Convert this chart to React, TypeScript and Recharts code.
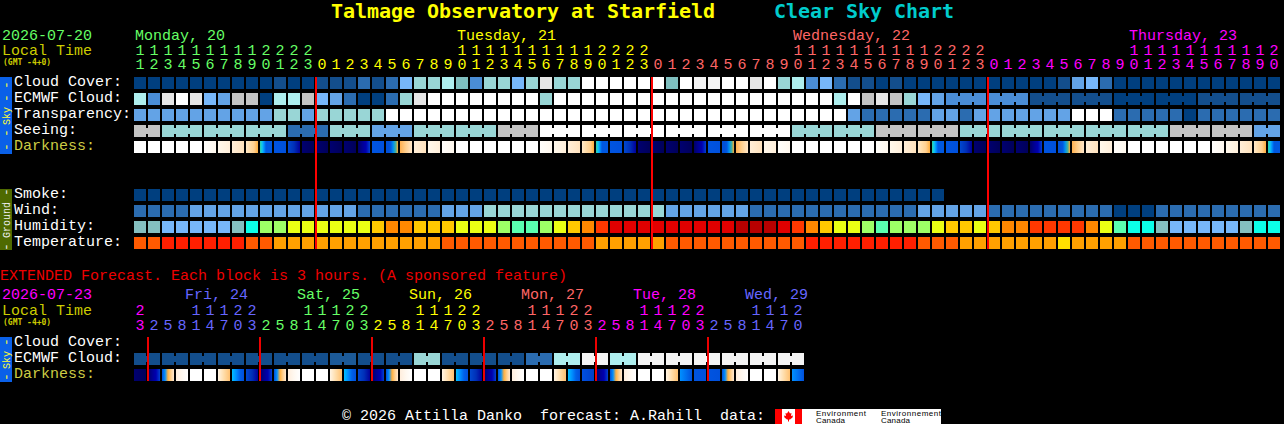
import { ScatterChart, Scatter, XAxis, YAxis } from 'recharts';

const MONO = '"Liberation Mono", monospace';
const BOLD = '"DejaVu Sans Mono", monospace';

// blue-to-white scale shared by the sky rows and wind
const skyPalette = ['#003f7f', '#134e8c', '#2b6cb0', '#4a8dd6', '#63a3e6', '#77b7fa', '#7fbfbf', '#99d6d6', '#aeeeee', '#c3c3c3', '#e6e6e6', '#ffffff', '#f4f4f4', '#1c5a98'];
const humidityPalette = ['#84bfbf', '#77b7fa', '#0cffe8', '#9eff66', '#5affb0', '#eaff14', '#ffc800', '#ff8800', '#ff3800', '#e00000', '#b80000'];
const temperaturePalette = ['#ff1f00', '#ff5a00', '#ffa000', '#ffe000'];

const darknessStops: { [key: string]: string[] } = {
  W: ['#ffffff', '#ffffff'],
  F: ['#fffefb', '#fff8ee'],
  L: ['#fff8ec', '#ffefda'],
  C: ['#ffeed8', '#ffe2bd'],
  O: ['#ffe8c8', '#ffdca8', '#ffd090', '#ffae3e'],
  T: ['#30d0a0', '#10c8f0', '#0090ff', '#0058e0', '#0058e0', '#0058e0', '#0058e0'],
  B: ['#0054e0', '#0050dc'],
  D: ['#0048d0', '#0030b8', '#00009a'],
  N: ['#000070', '#00005a'],
  U: ['#000068', '#000090', '#0000b0', '#0040d0'],
  R: ['#0050d8', '#0050d8', '#0058e0', '#0090f0', '#40b0a0', '#ffa830'],
  A: ['#ffb050', '#ffd090', '#ffe6c8'],
  X: ['#0050d8', '#0090ff', '#ffb040', '#ffd090', '#ffe8d0'],
  Y: ['#ffeedd', '#fff8f0', '#ffffff'],
  P: ['#fff4e4', '#ffdca8', '#ffc070'],
  S: ['#00c0ff', '#0090ff', '#0060e8', '#0050dc'],
  V: ['#0090ff', '#0070f0', '#0050dc'],
  Q: ['#0050e0', '#0040c8'],
};

const hours = [11, 12, 13, 14, 15, 16, 17, 18, 19, 20, 21, 22, 23,
  0, 1, 2, 3, 4, 5, 6, 7, 8, 9, 10, 11, 12, 13, 14, 15, 16, 17, 18, 19, 20, 21, 22, 23,
  0, 1, 2, 3, 4, 5, 6, 7, 8, 9, 10, 11, 12, 13, 14, 15, 16, 17, 18, 19, 20, 21, 22, 23,
  0, 1, 2, 3, 4, 5, 6, 7, 8, 9, 10, 11, 12, 13, 14, 15, 16, 17, 18, 19, 20];
const hourDayStarts = [{ col: 0, color: '#66ff66' }, { col: 13, color: '#ffff00' }, { col: 37, color: '#ff6666' }, { col: 61, color: '#ff00ff' }];
const midnights = [13, 37, 61];

const cloudCover = [0, 0, 0, 0, 0, 0, 0, 0, 0, 0, 1, 0, 0, 1, 1, 1, 2, 1, 2, 5, 7, 7, 8, 6, 3, 7, 7, 5, 7, 10, 7, 7,
  11, 11, 11, 11, 11, 11, 6, 11, 12, 12, 11, 11, 10, 11, 7, 8, 3, 5, 2, 1, 1, 0, 1, 0,
  0, 0, 0, 0, 0, 0, 0, 0, 0, 0, 1, 4, 5, 2, 0, 0, 0, 0, 0, 0, 0, 0, 0, 0, 0, 0];
const ecmwfCloud = [8, 3, 10, 11, 10, 5, 4, 9, 9, 0, 8, 8, 9, 5, 4, 2, 0, 0, 2, 7, 10,
  11, 11, 11, 11, 11, 11, 11, 11, 7, 11, 11, 11, 11, 11, 11, 11, 11, 11, 11, 11, 11, 11, 11, 11, 11, 11, 11, 11, 11, 8, 11,
  9, 10, 9, 7, 5, 4, 3, 3, 3, 3, 3, 3, 1, 1, 1, 1, 1, 1, 0, 0, 0, 0, 0, 0, 1, 1, 1, 1, 1, 1];
const transparency = [4, 4, 4, 4, 4, 4, 4, 4, 4, 4, 7, 7, 4, 7, 7, 7, 7, 7,
  11, 11, 11, 11, 11, 11, 11, 11, 11, 11, 11, 11, 11, 11, 11, 11, 11, 11, 11, 11, 11, 11, 11, 11, 11, 11, 11, 11, 11, 11, 11, 11, 11,
  4, 2, 2, 2, 2, 2, 4, 4, 2, 4, 4, 4, 4, 4, 4, 4, 11, 11, 11, 2, 2, 2, 2, 2, 0, 2, 2, 2, 2, 2, 2];
const seeing = [9, 9, 7, 7, 7, 7, 7, 7, 7, 7, 7, 2, 2, 2, 7, 7, 7, 4, 4, 4, 7, 7, 7, 7, 7, 7, 9, 9, 9,
  11, 11, 11, 11, 11, 11, 11, 11, 11, 11, 11, 11, 11, 11, 11, 11, 11, 11,
  7, 7, 7, 7, 7, 7, 9, 9, 9, 9, 9, 9, 7, 7, 7, 7, 7, 7, 7, 7, 7, 7, 7, 7, 7, 7, 7, 9, 9, 9, 9, 9, 9, 4, 4];
const darkness = ['W', 'W', 'W', 'W', 'W', 'F', 'L', 'C', 'O', 'T', 'B', 'D', 'N', 'N', 'N', 'N', 'U', 'B', 'R', 'A', 'C', 'L', 'F',
  'W', 'W', 'W', 'W', 'W', 'W', 'F', 'L', 'C', 'O', 'T', 'B', 'D', 'N', 'N', 'N', 'N', 'U', 'B', 'R', 'A', 'C', 'L', 'F',
  'W', 'W', 'W', 'W', 'W', 'W', 'F', 'L', 'C', 'O', 'T', 'B', 'D', 'N', 'N', 'N', 'N', 'U', 'B', 'R', 'A', 'C', 'L', 'F',
  'W', 'W', 'W', 'W', 'W', 'W', 'F', 'L', 'C', 'O', 'T'];
const smoke = [0, 0, 0, 0, 0, 0, 0, 0, 0, 0, 0, 0, 0, 0, 0, 0, 0, 0, 0, 0, 0, 0, 0, 0, 0, 0, 0, 0, 0,
  0, 0, 0, 0, 0, 0, 0, 0, 0, 0, 0, 0, 0, 0, 0, 0, 0, 0, 0, 0, 0, 0, 0, 0, 0, 0, 0, 0, 0];
const wind = [2, 2, 2, 2, 4, 4, 4, 4, 4, 4, 4, 4, 4, 4, 4, 4, 2, 2, 2, 2, 2, 2, 4, 4, 4,
  7, 7, 7, 7, 7, 7, 7, 7, 7, 7, 7, 7, 7, 4, 4, 4, 4, 4, 4, 2, 2, 2, 2, 2, 2, 2, 2, 2, 2, 2, 2,
  4, 4, 4, 4, 4, 2, 2, 2, 2, 2, 2, 2, 2, 2, 0, 0, 0, 2, 2, 2, 2, 2, 2, 2, 2, 2];
const humidity = [0, 0, 1, 1, 1, 1, 1, 0, 2, 3, 3, 5, 5, 5, 5, 5, 5, 6, 7, 7, 6, 6, 6, 5, 5, 5, 3, 4, 4, 3, 5, 6, 7, 8,
  9, 9, 9, 9, 9, 9, 9, 9, 9, 10, 10, 10, 9, 8, 7, 6, 5, 5, 3, 4, 3, 3, 3, 5, 6, 6, 5, 6, 7, 7, 8, 8, 8, 8, 7, 5, 4, 2, 2, 0, 1, 1, 1, 1, 1, 0, 2, 2];
const temperature = [1, 1, 0, 0, 0, 0, 0, 0, 1, 1, 2, 2, 2, 2, 2, 2, 2, 2, 2, 2, 2, 2,
  1, 1, 1, 1, 1, 1, 1, 1, 1, 1, 1, 2, 2, 2, 2, 2, 1, 1, 1, 1, 1, 1, 1, 1, 1, 1,
  0, 0, 0, 0, 0, 0, 0, 0, 1, 1, 1, 2, 2, 2, 2, 2, 2, 2, 3, 2, 2, 2, 2, 1, 1, 1, 1, 1, 1, 1, 1, 1, 1, 1];

const extHours = [23, 2, 5, 8, 11, 14, 17, 20, 23, 2, 5, 8, 11, 14, 17, 20, 23, 2, 5, 8, 11, 14, 17, 20, 23,
  2, 5, 8, 11, 14, 17, 20, 23, 2, 5, 8, 11, 14, 17, 20, 23, 2, 5, 8, 11, 14, 17, 20];
const extDayStarts = [{ col: 0, color: '#ff00ff' }, { col: 1, color: '#6666ff' }, { col: 9, color: '#66ff66' }, { col: 17, color: '#ffff00' }, { col: 25, color: '#ff6666' }, { col: 33, color: '#ff00ff' }, { col: 41, color: '#6666ff' }];
const extMidnights = [1, 9, 17, 25, 33, 41];
const extEcmwf = [1, 1, 1, 1, 1, 1, 1, 1, 1, 1, 1, 1, 1, 1, 13, 13, 1, 1, 1, 1, 7, 7, 1, 1, 1, 1, 1, 1, 2, 2, 8, 8, 12, 12, 8, 8,
  12, 12, 12, 12, 12, 12, 12, 12, 12, 12, 12, 12];
const extDarkness = ['N', 'U', 'X', 'Y', 'W', 'W', 'P', 'S', 'D', 'U', 'X', 'Y', 'W', 'W', 'P', 'S', 'D', 'U', 'X', 'Y', 'W', 'W', 'P', 'S',
  'D', 'U', 'X', 'Y', 'W', 'W', 'P', 'S', 'Q', 'U', 'X', 'Y', 'W', 'W', 'P', 'V', 'B', 'B', 'X', 'Y', 'W', 'W', 'P', 'V'];

const mainRows = [
  { row: 0, label: 'Cloud Cover:', color: '#ffffff' },
  { row: 1, label: 'ECMWF Cloud:', color: '#ffffff' },
  { row: 2, label: 'Transparency:', color: '#ffffff' },
  { row: 3, label: 'Seeing:', color: '#ffffff' },
  { row: 4, label: 'Darkness:', color: '#cccc44' },
  { row: 7, label: 'Smoke:', color: '#ffffff' },
  { row: 8, label: 'Wind:', color: '#ffffff' },
  { row: 9, label: 'Humidity:', color: '#ffffff' },
  { row: 10, label: 'Temperature:', color: '#ffffff' },
];
const extRows = [
  { row: 0, label: 'Cloud Cover:', color: '#ffffff' },
  { row: 1, label: 'ECMWF Cloud:', color: '#ffffff' },
  { row: 2, label: 'Darkness:', color: '#cccc44' },
];

const mainDays = [
  { x: 135, text: 'Monday, 20', color: '#66ff66' },
  { x: 457, text: 'Tuesday, 21', color: '#ffff00' },
  { x: 793, text: 'Wednesday, 22', color: '#ff6666' },
  { x: 1129, text: 'Thursday, 23', color: '#ff00ff' },
];
const extDays = [
  { x: 185, text: 'Fri, 24', color: '#6666ff' },
  { x: 297, text: 'Sat, 25', color: '#66ff66' },
  { x: 409, text: 'Sun, 26', color: '#ffff00' },
  { x: 521, text: 'Mon, 27', color: '#ff6666' },
  { x: 633, text: 'Tue, 28', color: '#ff00ff' },
  { x: 745, text: 'Wed, 29', color: '#6666ff' },
];

function levels(values: number[], row: number, palette: string[], joined?: (col: number) => boolean) {
  return values.map((v, col) => ({
    col,
    row,
    fill: palette[v],
    bridge: joined ? joined(col) && col < values.length - 1 : false,
  }));
}

function shades(values: string[], row: number) {
  return values.map((v, col) => ({ col, row, fill: `url(#dark-${v})`, bridge: false }));
}

function Block(props: any) {
  const { cx, cy, fill, bridge } = props;
  return (
    <g>
      <rect x={cx} y={cy} width={12} height={12} fill={fill} />
      {bridge && <rect x={cx + 12} y={cy + 3} width={2} height={6} fill={fill} />}
    </g>
  );
}

// red midnight line, drawn as the last series so it sits on top of the blocks
function midnightMark(height: number, fill: string) {
  return (props: any) => <rect x={props.cx - 1} y={props.cy} width={2} height={height} fill={fill} />;
}

function colorAt(starts: { col: number; color: string }[], col: number) {
  let c = starts[0].color;
  starts.forEach(s => {
    if (col >= s.col) c = s.color;
  });
  return c;
}

function HourTick({ x, payload, values, starts, topY, bottomY }: any) {
  const h = values[payload.value];
  const color = colorAt(starts, payload.value);
  return (
    <g fontFamily={MONO} fontSize={15} fill={color} textAnchor="middle">
      {h >= 10 && <text x={x + 6} y={topY}>{Math.floor(h / 10)}</text>}
      <text x={x + 6} y={bottomY}>{h % 10}</text>
    </g>
  );
}

function RowTick({ y, payload, rows }: any) {
  const r = rows.find((a: any) => a.row === payload.value);
  return (
    <text x={14} y={y + 9} fontFamily={MONO} fontSize={15} fill={r.color} textAnchor="start">
      {r.label}
    </text>
  );
}

function SideStrip({ y, height, color, text, textColor, dashes }: any) {
  const mid = y + height / 2 + 0.5;
  return (
    <g fontFamily={MONO} fontSize={10} fill={textColor} textAnchor="middle">
      <rect x={0} y={y} width={12} height={height} fill={color} />
      <text transform={`translate(9.5 ${mid}) rotate(-90)`}>{text}</text>
      {dashes.map((d: number) => (
        <text key={d} fontSize={13} transform={`translate(10 ${d}) rotate(-90)`}>-</text>
      ))}
    </g>
  );
}

export default function App() {
  const mainCols = hours.map((_, i) => i);
  const extCols = extHours.map((_, i) => i);
  return (
    <div style={{ position: 'relative', width: 1284, height: 424, background: '#000', overflow: 'hidden' }}>
      <style>{'body{margin:0;background:#000}'}</style>

      <svg width={1284} height={424} style={{ position: 'absolute', left: 0, top: 0 }}>
        <defs>
          {Object.keys(darknessStops).map(k => (
            <linearGradient key={k} id={`dark-${k}`} x1="0" y1="0" x2="1" y2="0">
              {darknessStops[k].map((c, i) => (
                <stop key={i} offset={i / (darknessStops[k].length - 1)} stopColor={c} />
              ))}
            </linearGradient>
          ))}
        </defs>

        <g fontFamily={BOLD} fontWeight="bold" fontSize={20} letterSpacing={-0.04}>
          <text x={331} y={18} fill="#ffff00">Talmage Observatory at Starfield</text>
          <text x={774} y={18} fill="#00cccc">Clear Sky Chart</text>
        </g>

        <g fontFamily={MONO} fontSize={15}>
          <text x={2} y={40} fill="#66ff66">2026-07-20</text>
          <text x={2} y={55} fill="#cccc00">Local Time</text>
          {mainDays.map(d => <text key={d.x} x={d.x} y={40} fill={d.color}>{d.text}</text>)}
          <text x={0} y={280} fill="#ee0000">EXTENDED Forecast. Each block is 3 hours. (A sponsored feature)</text>
          <text x={2} y={299} fill="#ff00ff">2026-07-23</text>
          <text x={2} y={315} fill="#cccc00">Local Time</text>
          {extDays.map(d => <text key={d.x} x={d.x} y={299} fill={d.color}>{d.text}</text>)}
          <text x={342} y={420} fill="#ffffff" style={{ whiteSpace: 'pre' }}>© 2026 Attilla Danko  forecast: A.Rahill  data:</text>
        </g>
        <g fontFamily={BOLD} fontWeight="bold" fontSize={8} fill="#cccc00">
          <text x={3} y={65}>(GMT -4+0)</text>
          <text x={3} y={325}>(GMT -4+0)</text>
        </g>

        <SideStrip y={77} height={77} color="#0a60e8" text="Sky" textColor="#ffff33" dashes={[85, 98, 133, 147]} />
        <SideStrip y={189} height={61} color="#4f6a00" text="Ground" textColor="#eeeeee" dashes={[192, 247]} />
        <SideStrip y={337} height={45} color="#0a60e8" text="Sky" textColor="#ffff33" dashes={[342, 377]} />

        <rect x={775} y={409} width={166} height={15} fill="#ffffff" />
        <rect x={775} y={409} width={7} height={15} fill="#ff0000" />
        <rect x={795} y={409} width={7} height={15} fill="#ff0000" />
        <path d="M788.5 411 l1.5 2.5 1.5-.5-.5 3 2-.5-.5 2-2.5 2h-1v2h-1v-2h-1l-2.5-2-.5-2 2 .5-.5-3 1.5.5z" fill="#ff0000" />
        <g fontFamily="'Liberation Sans', sans-serif" fontSize={8} fill="#000000">
          <text x={816} y={416} textLength={50}>Environment</text>
          <text x={816} y={423} textLength={29}>Canada</text>
          <text x={881} y={416} textLength={60}>Environnement</text>
          <text x={881} y={423} textLength={29}>Canada</text>
        </g>
      </svg>

      <div style={{ position: 'absolute', left: 0, top: 0 }}>
        <ScatterChart width={1284} height={260} margin={{ top: 0, right: 2, bottom: 11, left: 0 }}>
          <XAxis
            type="number"
            dataKey="col"
            orientation="top"
            height={77}
            domain={[0, 82]}
            ticks={mainCols}
            interval={0}
            axisLine={false}
            tickLine={false}
            tick={<HourTick values={hours} starts={hourDayStarts} topY={55} bottomY={69} />}
          />
          <YAxis
            type="number"
            dataKey="row"
            reversed
            width={134}
            domain={[0, 10.75]}
            ticks={mainRows.map(r => r.row)}
            interval={0}
            axisLine={false}
            tickLine={false}
            tick={<RowTick rows={mainRows} />}
          />
          <Scatter data={levels(cloudCover, 0, skyPalette)} shape={Block} isAnimationActive={false} />
          <Scatter data={levels(ecmwfCloud, 1, skyPalette, c => c >= 58 && c % 3 !== 0)} shape={Block} isAnimationActive={false} />
          <Scatter data={levels(transparency, 2, skyPalette)} shape={Block} isAnimationActive={false} />
          <Scatter data={levels(seeing, 3, skyPalette, c => c % 3 !== 1)} shape={Block} isAnimationActive={false} />
          <Scatter data={shades(darkness, 4)} shape={Block} isAnimationActive={false} />
          <Scatter data={levels(smoke, 7, skyPalette)} shape={Block} isAnimationActive={false} />
          <Scatter data={levels(wind, 8, skyPalette)} shape={Block} isAnimationActive={false} />
          <Scatter data={levels(humidity, 9, humidityPalette)} shape={Block} isAnimationActive={false} />
          <Scatter data={levels(temperature, 10, temperaturePalette)} shape={Block} isAnimationActive={false} />
          <Scatter data={midnights.map(col => ({ col, row: 0 }))} shape={midnightMark(172, '#ff0000')} isAnimationActive={false} />
        </ScatterChart>
      </div>

      <div style={{ position: 'absolute', left: 0, top: 270 }}>
        <ScatterChart width={1284} height={120} margin={{ top: 0, right: 478, bottom: 9, left: 0 }}>
          <XAxis
            type="number"
            dataKey="col"
            orientation="top"
            height={67}
            domain={[0, 48]}
            ticks={extCols}
            interval={0}
            axisLine={false}
            tickLine={false}
            tick={<HourTick values={extHours} starts={extDayStarts} topY={45} bottomY={60} />}
          />
          <YAxis
            type="number"
            dataKey="row"
            reversed
            width={134}
            domain={[0, 2.75]}
            ticks={extRows.map(r => r.row)}
            interval={0}
            axisLine={false}
            tickLine={false}
            tick={<RowTick rows={extRows} />}
          />
          <Scatter data={levels(extEcmwf, 1, skyPalette, c => c % 2 === 0)} shape={Block} isAnimationActive={false} />
          <Scatter data={shades(extDarkness, 2)} shape={Block} isAnimationActive={false} />
          <Scatter data={extMidnights.map(col => ({ col, row: 0 }))} shape={midnightMark(44, '#ee0000')} isAnimationActive={false} />
        </ScatterChart>
      </div>
    </div>
  );
}
